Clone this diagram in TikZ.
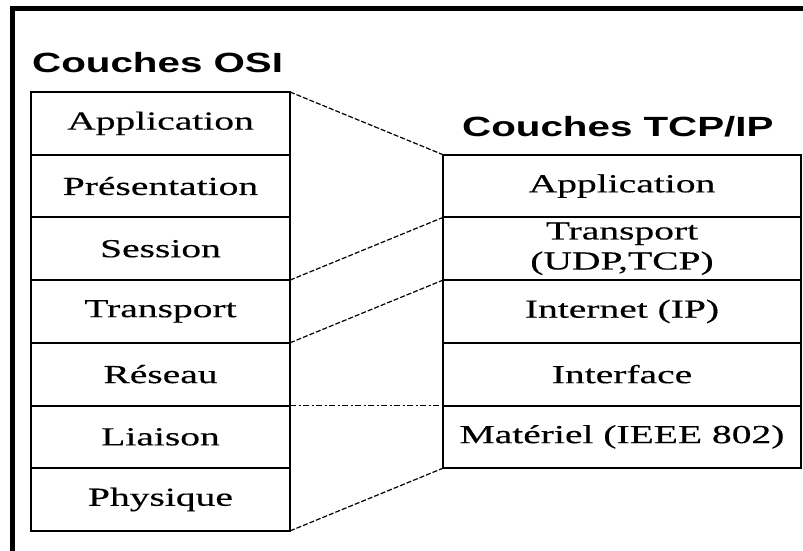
\documentclass[tikz,border=0pt]{standalone}
\usepackage{fontspec}
\setmainfont{Liberation Serif}[FakeStretch=1.52, FakeBold=0.35]
\newfontfamily\titlefont{Liberation Sans}[FakeStretch=1.45]
\begin{document}
\begin{tikzpicture}[x=1pt,y=-1pt,
  layerbox/.style={draw=black, line width=2pt, rectangle, inner sep=0pt, outer sep=0pt,
    minimum height=62.7pt, align=center,
    font=\fontsize{26}{30}\selectfont},
  osibox/.style={layerbox, minimum width=259pt},
  tcpbox/.style={layerbox, minimum width=358pt},
  stacktitle/.style={anchor=base west, inner sep=0pt,
    font=\titlefont\bfseries\fontsize{27.8}{30}\selectfont},
  mapline/.style={line width=1.2pt, dash pattern=on 5pt off 2pt},
  mapdashdot/.style={line width=1.2pt, dash pattern=on 6pt off 2.5pt on 2pt off 2.5pt}]
\clip (0,0) rectangle (803,551);
\fill[white] (0,0) rectangle (803,551);
% outer frame (top and left edges)
\draw[line width=5pt] (12.5,600) -- (12.5,8.5) -- (860,8.5);

% titles
\node[stacktitle] (osiTitle) at (32,73) {Couches OSI};
\node[stacktitle] (tcpTitle) at (462,136.5) {Couches TCP/IP};

% OSI stack
\node[osibox] (osiApp) at (160.5,123.35) {Application};
\node[osibox] (osiPre) at (160.5,186.05) {Présentation};
\node[osibox] (osiSes) at (160.5,248.75) {Session};
\node[osibox] (osiTra) at (160.5,311.45) {Transport};
\node[osibox] (osiRes) at (160.5,374.15) {Réseau};
\node[osibox] (osiLia) at (160.5,436.85) {Liaison};
\node[osibox] (osiPhy) at (160.5,499.55) {Physique};

% TCP/IP stack
\node[tcpbox] (tcpApp) at (622,186.05) {Application};
\node[tcpbox] (tcpTra) at (622,248.75) {Transport\\(UDP,TCP)};
\node[tcpbox] (tcpInt) at (622,311.45) {Internet (IP)};
\node[tcpbox] (tcpIfc) at (622,374.15) {Interface};
\node[tcpbox] (tcpMat) at (622,436.85) {Matériel (IEEE 802)};

% correspondence lines
\draw[mapline] (osiApp.north east) -- (tcpApp.north west);
\draw[mapline] (osiSes.south east) -- (tcpApp.south west);
\draw[mapline] (osiTra.south east) -- (tcpTra.south west);
\draw[mapdashdot] (osiRes.south east) -- (tcpIfc.south west);
\draw[mapline] (osiPhy.south east) -- (tcpMat.south west);
\end{tikzpicture}
\end{document}
